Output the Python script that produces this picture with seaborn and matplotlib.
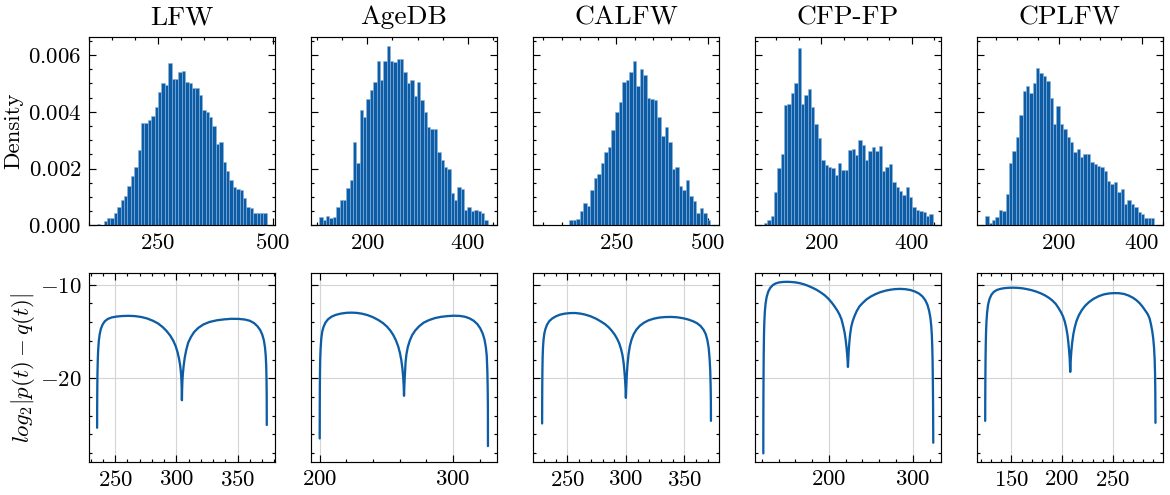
import numpy as np
import pandas as pd
import matplotlib
matplotlib.use('Agg')
import matplotlib.pyplot as plt
from matplotlib.ticker import MultipleLocator
import seaborn as sns

sns.set_style('ticks')

names = ['LFW', 'AgeDB', 'CALFW', 'CFP-FP', 'CPLFW']

# histogram heights (density, x1e-3), 50 equal bins between the given range
lfw_density = [0.05, 0.0, 0.15, 0.25, 0.25, 0.45, 0.65, 0.9, 1.05, 1.4,
               1.75, 2.05, 2.65, 3.6, 3.6, 3.7, 3.85, 4.15, 4.7, 5.0,
               4.95, 5.7, 5.15, 5.15, 5.4, 5.45, 5.05, 5.0, 4.85, 4.85,
               4.6, 4.05, 4.0, 3.8, 3.5, 2.85, 2.95, 2.25, 1.9, 1.6,
               1.35, 1.3, 1.25, 0.95, 0.65, 0.6, 0.45, 0.45, 0.45, 0.45]
agedb_density = [0.3, 0.2, 0.35, 0.27, 0.3, 0.65, 0.9, 0.9, 1.33, 1.6,
                 2.95, 2.2, 4.05, 3.8, 4.45, 4.75, 5.05, 5.8, 5.1, 5.8,
                 6.3, 5.8, 5.75, 5.85, 5.85, 5.4, 5.0, 5.1, 4.55, 5.05,
                 4.4, 4.0, 3.45, 3.4, 3.4, 2.6, 2.3, 2.05, 2.0, 1.15,
                 0.9, 1.35, 1.3, 0.55, 0.65, 0.5, 0.55, 0.5, 0.45, 0.2]
calfw_density = [0.01, 0.0, 0.01, 0.0, 0.0, 0.0, 0.01, 0.0, 0.0, 0.0,
                 0.18, 0.18, 0.23, 0.5, 0.8, 0.68, 1.26, 1.68, 1.82, 2.2,
                 2.6, 2.75, 3.35, 4.0, 4.35, 5.05, 5.1, 5.4, 5.8, 4.9,
                 5.5, 5.3, 4.5, 4.45, 4.4, 3.8, 3.15, 3.45, 2.95, 2.0,
                 2.05, 1.4, 1.25, 1.6, 1.05, 0.85, 0.45, 0.6, 0.45, 0.2]
cfpfp_density = [0.1, 0.18, 0.35, 1.18, 2.03, 2.53, 4.22, 4.27, 4.65, 5.02,
                 6.24, 4.26, 4.6, 4.8, 4.15, 3.56, 3.06, 2.32, 2.14, 2.06,
                 2.02, 1.79, 2.2, 1.96, 1.94, 2.67, 2.7, 2.49, 3.02, 2.82,
                 2.32, 2.62, 2.76, 2.62, 2.79, 1.92, 2.06, 2.18, 1.53, 1.35,
                 1.21, 1.06, 1.35, 1.0, 0.65, 0.55, 0.5, 0.47, 0.35, 0.41]
cplfw_density = [0.35, 0.08, 0.21, 0.29, 0.53, 0.5, 1.09, 2.21, 2.62, 3.12,
                 3.9, 4.74, 4.9, 4.67, 5.0, 5.53, 5.38, 5.26, 5.09, 4.5,
                 3.56, 4.2, 3.56, 3.38, 3.12, 2.94, 2.59, 2.68, 2.41, 2.5,
                 2.5, 2.24, 2.15, 2.09, 2.06, 1.92, 1.56, 1.45, 1.53, 1.18,
                 1.27, 0.74, 0.9, 0.76, 0.65, 0.49, 0.41, 0.27, 0.27, 0.27]
hist_ranges = [(117, 486), (104.6, 439.3), (23.7, 507.7), (72.4, 446.6), (24, 429.6)]

# log2 |p(t) - q(t)| curves
lfw_t = [235.2, 235.25, 235.35, 235.5, 235.75, 236.1, 236.6, 237.3, 238.3, 239.7,
         241.5, 244, 247, 251, 256, 261, 266, 271, 276, 281,
         285, 289, 292, 295, 297.5, 299.5, 301, 302.2, 303.1, 303.7,
         304.1, 304.35, 304.5, 304.65, 304.9, 305.3, 305.9, 306.8, 308, 309.6,
         311.8, 314.5, 318, 322, 327, 333, 339, 345, 351, 356,
         360, 363.5, 366.3, 368.5, 370.2, 371.5, 372.4, 373.0, 373.4, 373.65,
         373.8, 373.85]
lfw_gap = [-25.3, -23.0, -21.0, -19.4, -18.0, -16.9, -16.0, -15.3, -14.7, -14.25,
           -13.9, -13.65, -13.5, -13.4, -13.34, -13.32, -13.35, -13.44, -13.6, -13.86,
           -14.14, -14.55, -14.95, -15.45, -16.0, -16.6, -17.25, -17.95, -18.65, -19.4,
           -20.2, -21.2, -22.35, -21.3, -20.3, -19.5, -18.7, -17.8, -17.0, -16.2,
           -15.6, -15.05, -14.6, -14.25, -13.98, -13.8, -13.7, -13.64, -13.65, -13.72,
           -13.85, -14.1, -14.45, -14.85, -15.35, -15.95, -16.7, -17.6, -18.7, -20.2,
           -22.0, -25.0]
agedb_t = [200.0, 200.05, 200.12, 200.22, 200.4, 200.7, 201.2, 201.9, 202.9, 204.3,
           206.2, 208.8, 212, 216, 220, 224, 228, 232, 236, 240,
           244, 247.5, 250.5, 253, 255.2, 257.2, 258.9, 260.2, 261.2, 262.0,
           262.6, 263.0, 263.25, 263.5, 263.85, 264.4, 265.1, 266.1, 267.5, 269.3,
           271.6, 274.5, 278, 282, 286.5, 291, 296, 300.5, 305, 309,
           312.5, 315.5, 318.2, 320.4, 322.2, 323.6, 324.6, 325.3, 325.75, 326.0,
           326.15, 326.2]
agedb_gap = [-26.44, -23.0, -21.0, -19.3, -17.9, -16.8, -15.75, -15.0, -14.5, -14.05,
             -13.7, -13.42, -13.22, -13.08, -13.0, -12.98, -13.01, -13.1, -13.25, -13.47,
             -13.77, -14.1, -14.48, -14.9, -15.38, -15.95, -16.6, -17.3, -18.05, -18.9,
             -19.85, -20.8, -21.88, -20.8, -19.8, -18.3, -17.4, -16.65, -16.0, -15.4,
             -14.9, -14.45, -14.05, -13.78, -13.56, -13.43, -13.35, -13.31, -13.33, -13.42,
             -13.6, -13.85, -14.2, -14.65, -15.2, -15.85, -16.65, -17.6, -19.2, -21.0,
             -23.0, -27.26]
calfw_t = [228.3, 228.35, 228.42, 228.55, 228.75, 229.05, 229.5, 230.2, 231.2, 232.6,
           234.5, 237, 240, 243.5, 247.5, 252, 256.5, 261, 265.5, 270,
           274.5, 278.5, 282, 285.3, 288, 290.5, 292.6, 294.4, 295.9, 297.1,
           298.0, 298.7, 299.3, 299.7, 300.0, 300.3, 300.75, 301.4, 302.3, 303.4,
           304.8, 306.6, 309, 312, 315.5, 319.5, 324, 329, 334, 339,
           344, 349, 353.5, 357.5, 361, 364, 366.5, 368.4, 369.8, 370.9,
           371.7, 372.2, 372.55, 372.75, 372.8]
calfw_gap = [-24.84, -22.5, -20.8, -19.1, -17.7, -16.7, -15.9, -15.2, -14.7, -14.25,
             -13.88, -13.6, -13.38, -13.2, -13.09, -13.03, -13.02, -13.08, -13.2, -13.38,
             -13.63, -13.92, -14.2, -14.55, -14.93, -15.35, -15.8, -16.3, -16.9, -17.55,
             -18.3, -19.2, -20.2, -21.1, -22.1, -21.0, -19.7, -18.5, -17.4, -16.55,
             -15.88, -15.3, -14.8, -14.38, -14.05, -13.8, -13.62, -13.5, -13.45, -13.44,
             -13.48, -13.58, -13.72, -13.9, -14.12, -14.42, -14.82, -15.3, -15.95, -16.8,
             -18.0, -19.2, -20.9, -22.6, -24.56]
cfpfp_t = [121.9, 121.95, 122.05, 122.2, 122.4, 122.7, 123.1, 123.7, 124.6, 125.9,
           127.7, 130, 133, 136.5, 140.5, 145, 150, 155, 160, 165,
           170, 175, 180, 185, 190, 195, 199.5, 203.5, 207, 210,
           212.7, 215, 217, 218.7, 220, 221, 221.8, 222.3, 222.7, 223.1,
           223.6, 224.3, 225.3, 226.6, 228.3, 230.5, 233.2, 236.5, 240.5, 245,
           250, 255.5, 261, 267, 273, 279, 285, 291, 297, 302.5,
           307.5, 311.5, 314.8, 317.4, 319.4, 320.9, 321.9, 322.6, 323.1, 323.5,
           323.8, 324.05, 324.3]
cfpfp_gap = [-28.04, -24.5, -22.0, -19.5, -17.3, -15.4, -14.0, -12.9, -12.0, -11.3,
             -10.75, -10.35, -10.05, -9.86, -9.75, -9.7, -9.68, -9.7, -9.74, -9.82,
             -9.94, -10.1, -10.3, -10.52, -10.8, -11.12, -11.5, -11.92, -12.35, -12.75,
             -13.2, -13.7, -14.4, -15.1, -15.9, -16.7, -17.5, -18.15, -18.79, -18.0,
             -17.1, -16.2, -15.3, -14.5, -13.9, -13.35, -12.8, -12.3, -11.92, -11.55,
             -11.25, -11.0, -10.8, -10.64, -10.53, -10.46, -10.44, -10.47, -10.56, -10.72,
             -10.95, -11.25, -11.65, -12.15, -12.8, -13.55, -14.4, -15.4, -16.6, -18.2,
             -20.3, -22.6, -26.9]
cplfw_t = [124.1, 124.15, 124.25, 124.4, 124.6, 124.9, 125.35, 126, 127, 128.4,
           130.3, 132.7, 135.5, 139, 143, 147.5, 152, 156.5, 161, 165.5,
           170, 174.5, 179, 183, 187, 190.5, 193.7, 196.5, 198.9, 200.9,
           202.6, 204, 205.2, 206.1, 206.8, 207.4, 207.95, 208.5, 209.1, 209.9,
           211, 212.4, 214.2, 216.5, 219.3, 222.6, 226.5, 231, 236, 241,
           246, 251, 256, 261, 265.5, 269.5, 273.2, 276.5, 279.5, 282.2,
           284.4, 286.2, 287.6, 288.8, 289.8, 290.6, 291.2, 291.6, 291.85, 292.0]
cplfw_gap = [-24.56, -22.3, -20.3, -18.4, -16.7, -15.2, -13.95, -12.95, -12.1, -11.5,
             -11.05, -10.75, -10.56, -10.44, -10.36, -10.32, -10.31, -10.33, -10.38, -10.47,
             -10.58, -10.73, -10.92, -11.13, -11.4, -11.7, -12.05, -12.5, -12.95, -13.4,
             -13.95, -14.6, -15.35, -16.2, -17.0, -17.9, -19.32, -17.95, -17.05, -16.15,
             -15.3, -14.55, -13.85, -13.25, -12.72, -12.25, -11.85, -11.5, -11.22, -11.03,
             -10.93, -10.89, -10.9, -10.98, -11.15, -11.37, -11.65, -11.98, -12.38, -12.8,
             -13.15, -13.6, -14.25, -14.95, -15.75, -16.75, -18.0, -19.6, -21.6, -24.77]

densities = [lfw_density, agedb_density, calfw_density, cfpfp_density, cplfw_density]
curves = [(lfw_t, lfw_gap), (agedb_t, agedb_gap), (calfw_t, calfw_gap),
          (cfpfp_t, cfpfp_gap), (cplfw_t, cplfw_gap)]

# axis settings per column: (xlim, major, minor) for histogram row and curve row
top_x = [((100, 504), 250, 50), ((88, 458), 200, 50), ((22, 531), 250, 50),
         ((53, 465), 200, 50), ((4, 450), 200, 50)]
bot_x = [((228.6, 380.6), 50, 10), ((193.5, 333), 100, 20), ((220.5, 379.7), 50, 10),
         ((112, 333.5), 100, 20), ((116, 299.4), 50, 10)]

BLUE = '#0C5DA5'
plt.rcParams.update({
    'font.family': 'cmr10',
    'mathtext.fontset': 'cm',
    'axes.formatter.use_mathtext': True,
    'font.size': 16.5,
    'axes.titlesize': 19.8,
    'text.color': 'black',
    'axes.labelcolor': 'black',
    'axes.edgecolor': 'black',
    'axes.linewidth': 0.85,
    'xtick.color': 'black', 'ytick.color': 'black',
    'xtick.direction': 'in', 'ytick.direction': 'in',
    'xtick.top': True, 'ytick.right': True,
    'xtick.major.size': 4.8, 'ytick.major.size': 4.8,
    'xtick.minor.size': 2.4, 'ytick.minor.size': 2.4,
    'xtick.major.width': 0.85, 'ytick.major.width': 0.85,
    'xtick.minor.width': 0.85, 'ytick.minor.width': 0.85,
    'xtick.major.pad': 5.5, 'ytick.major.pad': 5.3,
})

fig, axes = plt.subplots(2, 5, figsize=(11.7, 4.95), sharey='row')
fig.subplots_adjust(left=0.0761, right=0.994, top=0.9253, bottom=0.0667,
                    wspace=0.1935, hspace=0.2546)

for i, name in enumerate(names):
    ax = axes[0, i]
    lo, hi = hist_ranges[i]
    edges = np.linspace(lo, hi, len(densities[i]) + 1)
    hist_df = pd.DataFrame({'score': (edges[:-1] + edges[1:]) / 2,
                            'density': np.array(densities[i]) * 1e-3})
    sns.histplot(data=hist_df, x='score', weights='density', bins=list(edges), ax=ax,
                 color=BLUE, alpha=1, edgecolor='#8db3dc', linewidth=0.4)
    ax.set_title(name, pad=9)
    (xl, major, minor) = top_x[i]
    ax.set_xlim(xl)
    ax.xaxis.set_major_locator(MultipleLocator(major))
    ax.xaxis.set_minor_locator(MultipleLocator(minor))
    ax.set_ylim(0, 0.00663)
    ax.yaxis.set_major_locator(MultipleLocator(0.002))
    ax.yaxis.set_minor_locator(MultipleLocator(0.0005))
    ax.set_xlabel('')
    ax.set_ylabel('Density' if i == 0 else '')

    ax = axes[1, i]
    t, gap = curves[i]
    curve_df = pd.DataFrame({'t': t, 'gap': gap})
    sns.lineplot(data=curve_df, x='t', y='gap', ax=ax, color=BLUE, linewidth=1.65,
                 sort=False, estimator=None)
    ax.grid(True, color='#d4d4d4', linewidth=0.8)
    ax.set_axisbelow(True)
    (xl, major, minor) = bot_x[i]
    ax.set_xlim(xl)
    ax.xaxis.set_major_locator(MultipleLocator(major))
    ax.xaxis.set_minor_locator(MultipleLocator(minor))
    ax.set_ylim(-28.96, -8.79)
    ax.yaxis.set_major_locator(MultipleLocator(10))
    ax.yaxis.set_minor_locator(MultipleLocator(2))
    ax.set_xlabel('')
    ax.set_ylabel(r'$log_2|p(t)-q(t)|$' if i == 0 else '')

axes[0, 0].yaxis.set_label_coords(-0.352, 0.5)
axes[1, 0].yaxis.set_label_coords(-0.282, 0.5)

for ax in axes.flat:
    ax.tick_params(which='both', top=True, right=True)

fig.savefig('out.png', dpi=100)
